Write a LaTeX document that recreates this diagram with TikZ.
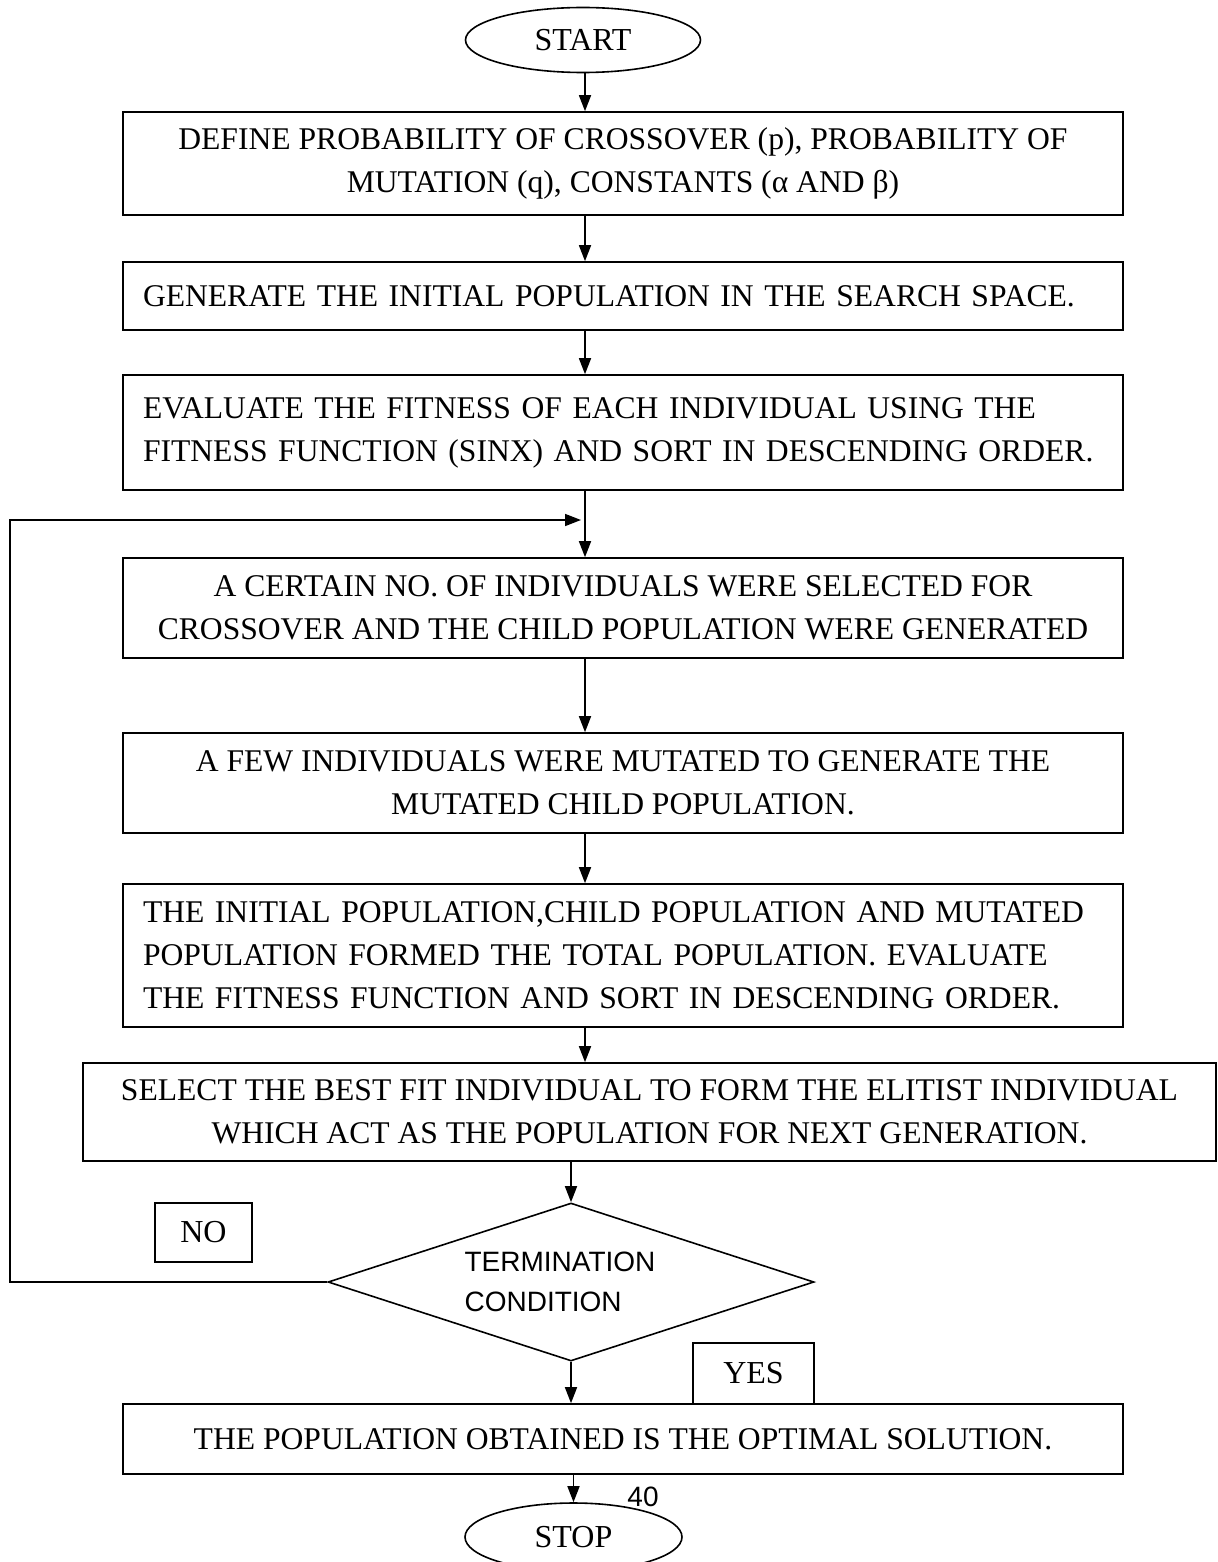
\documentclass[tikz,border=0pt]{standalone}
\usepackage{fontspec}
\setmainfont{Liberation Serif}
\newfontfamily\arialfont{Liberation Sans}
\usetikzlibrary{shapes.geometric, arrows.meta}

\tikzstyle{rec} = [rectangle, draw = black, line width = 0.8pt, minimum width = 500pt, inner xsep = 10pt, inner ysep = 2pt, align = center, font = \fontsize{15.8}{21.5}\selectfont]
\tikzstyle{recl} = [rec, text width = 480pt, align = left]
\tikzstyle{term} = [ellipse, draw = black, line width = 0.8pt, inner sep = 0pt, font = \fontsize{16}{21.5}\selectfont]
\tikzstyle{decision} = [diamond, draw = black, line width = 0.8pt, aspect = 3, minimum width = 243pt, minimum height = 79pt, inner sep = 1pt, align = left, font = \arialfont\fontsize{14}{20}\selectfont]
\tikzstyle{ans} = [rectangle, draw = black, line width = 0.8pt, inner sep = 0pt, font = \fontsize{16}{21.5}\selectfont]
\tikzstyle{arrow} = [thick, -{Triangle[length = 8pt, width = 6pt]}, draw = black]

\begin{document}
\begin{tikzpicture}[x = 0.5pt, y = -0.5pt]
    \useasboundingbox (0, 0) rectangle (1218, 1562);
    	\node(start)[term, minimum width = 117.5pt, minimum height = 32.5pt] at (583, 40) {START};
        \node(define)[rec, minimum height = 51.5pt] at (623, 163.5) {DEFINE PROBABILITY OF CROSSOVER (p), PROBABILITY OF\\MUTATION (q), CONSTANTS (α AND β)};
        \node(generate)[recl, minimum height = 34pt] at (623, 296) {GENERATE THE INITIAL POPULATION IN THE SEARCH SPACE.};
        \node(evaluate)[recl, minimum height = 57.5pt] at (623, 432.5) {EVALUATE THE FITNESS OF EACH INDIVIDUAL USING THE\\FITNESS FUNCTION (SINX) AND SORT IN DESCENDING ORDER.};
        \node(crossover)[rec, minimum height = 50pt] at (623, 608) {A CERTAIN NO. OF INDIVIDUALS WERE SELECTED FOR\\CROSSOVER AND THE CHILD POPULATION WERE GENERATED};
        \node(mutate)[rec, minimum height = 50pt] at (623, 783) {A FEW INDIVIDUALS WERE MUTATED TO GENERATE THE\\MUTATED CHILD POPULATION.};
        \node(total)[recl, minimum height = 71.5pt] at (623, 955.5) {THE INITIAL POPULATION,CHILD POPULATION AND MUTATED\\POPULATION FORMED THE TOTAL POPULATION. EVALUATE\\THE FITNESS FUNCTION AND SORT IN DESCENDING ORDER.};
        \node(elitist)[rec, minimum width = 566.5pt, minimum height = 49pt] at (649.5, 1112) {SELECT THE BEST FIT INDIVIDUAL TO FORM THE ELITIST INDIVIDUAL\\WHICH ACT AS THE POPULATION FOR NEXT GENERATION.};
        \node(check)[decision] at (571, 1282) {TERMINATION\hspace*{11pt}\\CONDITION};
        \node(no)[ans, minimum width = 48.5pt, minimum height = 29.5pt] at (203.5, 1232.5) {NO};
        \node(yes)[ans, minimum width = 60.5pt, minimum height = 30.5pt] at (753.5, 1373.5) {YES};
        \node(optimal)[rec, fill = white, minimum height = 35pt] at (623, 1439) {THE POPULATION OBTAINED IS THE OPTIMAL SOLUTION.};
        \node(page) at (643, 1497) {\arialfont\fontsize{14}{16}\selectfont 40};
        \node(stop)[term, minimum width = 108.5pt, minimum height = 34pt] at (573.5, 1537) {STOP};
        % arrow column and loop corners
        \coordinate(col) at (585, 0);
        \coordinate(loopbot) at (10, 1282);
        \coordinate(looptop) at (10, 520);
        \coordinate(join) at (581, 520);
        \draw[arrow] (start.south -| col) -- (define.north -| col);
        \draw[arrow] (define.south -| col) -- (generate.north -| col);
        \draw[arrow] (generate.south -| col) -- (evaluate.north -| col);
        \draw[arrow] (evaluate.south -| col) -- (crossover.north -| col);
        \draw[arrow] (check.west) -- (loopbot) -- (looptop) -- (join);
        \draw[arrow] (crossover.south -| col) -- (mutate.north -| col);
        \draw[arrow] (mutate.south -| col) -- (total.north -| col);
        \draw[arrow] (total.south -| col) -- (elitist.north -| col);
        \draw[arrow] (elitist.south -| check) -- (check.north);
        \draw[arrow] (check.south) -- (check.south |- optimal.north);
        \draw[arrow] (optimal.south -| stop) -- (stop.north);
    \end{tikzpicture}
\end{document}
